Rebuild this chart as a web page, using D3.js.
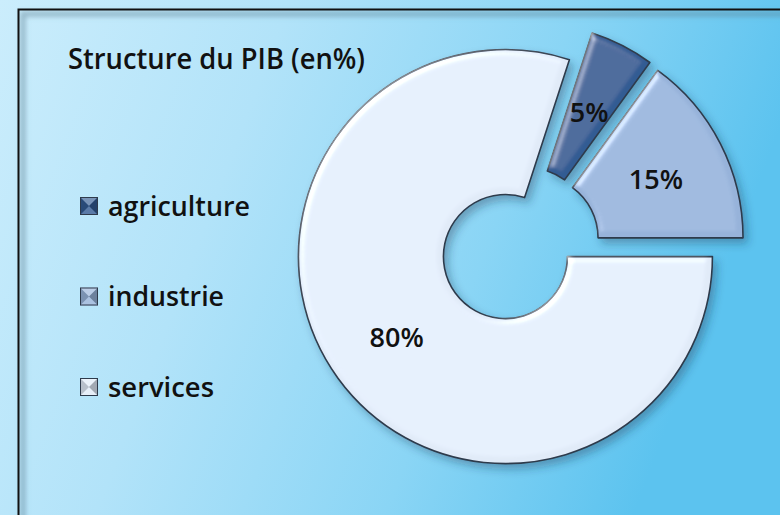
<!DOCTYPE html>
<html>
<head>
<meta charset="utf-8">
<script src="https://cdn.jsdelivr.net/npm/d3@7"></script>
<style>
html, body { margin: 0; padding: 0; overflow: hidden; background: #c4e8fa; }
text { font-family: "Open Sans", sans-serif; font-weight: 600; fill: #111; }
</style>
</head>
<body>
<div id="chart"></div>
<script>
const categories = ['agriculture', 'industrie', 'services']
const values = [5, 15, 80]
const pctLabels = ['5%', '15%', '80%']
const sliceColors = ['#325b93', '#97b3da', '#e1ebf8']
const chartTitle = 'Structure du PIB (en%)'

const width = 780, height = 515
const cx = 520, cy = 246
const rInner = 62, rOuter = 207
const explode = 18

const svg = d3.select('#chart')
.append('svg')
.attr('width', width)
.attr('height', height)

const defs = svg.append('defs')

// background gradient, light on the left, deeper blue to the right
const bg = defs.append('linearGradient')
.attr('id', 'bg')
.attr('x1', 0).attr('y1', 0).attr('x2', 1).attr('y2', 0.25)

bg.selectAll('stop')
.data([[0, '#cbedfc'], [0.35, '#b2e3f9'], [0.7, '#8ad5f5'], [1, '#5cc3ef']])
.enter()
.append('stop')
.attr('offset', d => d[0])
.attr('stop-color', d => d[1])

const shadow = defs.append('filter')
.attr('id', 'shadow')
.attr('x', '-20%').attr('y', '-20%').attr('width', '140%').attr('height', '140%')

shadow.append('feDropShadow')
.attr('dx', 4).attr('dy', 5)
.attr('stdDeviation', 4)
.attr('flood-color', '#12324f')
.attr('flood-opacity', 0.35)

const bevel = defs.append('filter')
.attr('id', 'bevel')
.attr('x', '-10%').attr('y', '-10%').attr('width', '120%').attr('height', '120%')

bevel.append('feGaussianBlur')
.attr('in', 'SourceAlpha')
.attr('stdDeviation', 3.5)
.attr('result', 'blur')

bevel.append('feSpecularLighting')
.attr('in', 'blur')
.attr('surfaceScale', 4)
.attr('specularConstant', 0.8)
.attr('specularExponent', 18)
.attr('lighting-color', '#ffffff')
.attr('result', 'spec')
.append('feDistantLight')
.attr('azimuth', 225)
.attr('elevation', 35)

bevel.append('feComposite')
.attr('in', 'spec').attr('in2', 'SourceAlpha')
.attr('operator', 'in')
.attr('result', 'spec2')

bevel.append('feComposite')
.attr('in', 'SourceGraphic').attr('in2', 'spec2')
.attr('operator', 'arithmetic')
.attr('k1', 0).attr('k2', 1).attr('k3', 0.5).attr('k4', 0)

const blur = defs.append('filter').attr('id', 'soft')
blur.append('feGaussianBlur').attr('stdDeviation', 2.5)

svg.append('rect')
.attr('width', width)
.attr('height', height)
.attr('fill', 'url(#bg)')

// frame of the slide, runs off the right and bottom
const frame = svg.append('g')

frame.append('path')
.attr('d', 'M23,' + (height + 20) + ' V14 H' + (width + 20))
.attr('fill', 'none')
.attr('stroke', '#5c7f92')
.attr('stroke-opacity', 0.5)
.attr('stroke-width', 5)
.attr('filter', 'url(#soft)')

frame.append('path')
.attr('d', 'M18.5,' + (height + 20) + ' V9.5 H' + (width + 20))
.attr('fill', 'none')
.attr('stroke', '#111')
.attr('stroke-width', 2)

const fit = (sel, target) => {
	sel.each(function(){
		d3.select(this)
		.attr('textLength', target)
		.attr('lengthAdjust', 'spacingAndGlyphs')
	})
}

// title
const titleText = svg.append('text')
.attr('x', 68)
.attr('y', 69)
.style('font-size', '28px')
.text(chartTitle)

fit(titleText, 297)

// donut
const pie = d3.pie()
.sort(null)
.value(d => d)
.startAngle(Math.PI / 10)
.endAngle(Math.PI / 10 + 2 * Math.PI)

const arcs = pie(values)

const arc = d3.arc()
.innerRadius(rInner)
.outerRadius(rOuter)

const offset = d => {
	let mid = (d.startAngle + d.endAngle) / 2
	return [explode * Math.sin(mid), -explode * Math.cos(mid)]
}

const donut = svg.append('g')
.attr('transform', 'translate(' + cx + ',' + cy + ')')
.attr('filter', 'url(#shadow)')

donut.selectAll('path')
.data(arcs)
.enter()
.append('path')
.attr('class', (d, i) => 'slice ' + categories[i])
.attr('transform', d => 'translate(' + offset(d) + ')')
.attr('d', arc)
.attr('fill', (d, i) => sliceColors[i])
.attr('stroke', '#2e3b4c')
.attr('stroke-width', 1.6)
.attr('stroke-linejoin', 'round')
.attr('filter', 'url(#bevel)')

svg.append('g')
.attr('transform', 'translate(' + cx + ',' + cy + ')')
.selectAll('text')
.data(arcs)
.enter()
.append('text')
.attr('x', d => arc.centroid(d)[0] + offset(d)[0])
.attr('y', d => arc.centroid(d)[1] + offset(d)[1] + 2)
.attr('dy', '0.36em')
.attr('text-anchor', 'middle')
.style('font-size', '27px')
.text((d, i) => pctLabels[i])

// legend
const legendY = d3.scalePoint()
.domain(categories)
.range([206, 387])

const sq = 18

const legend = svg.append('g')
.selectAll('g')
.data(categories)
.enter()
.append('g')
.attr('transform', d => 'translate(80,' + (legendY(d) - sq / 2) + ')')

legend.append('rect')
.attr('width', sq)
.attr('height', sq)
.attr('fill', (d, i) => sliceColors[i])

const tri = [
	[[0, 0], [sq, 0], [sq / 2, sq / 2], '#fff', 0.35],
	[[0, sq], [sq, sq], [sq / 2, sq / 2], '#fff', 0.2],
	[[0, 0], [0, sq], [sq / 2, sq / 2], '#000', 0.18],
	[[sq, 0], [sq, sq], [sq / 2, sq / 2], '#000', 0.28]
]

tri.map(t => {
	legend.append('path')
	.attr('d', 'M' + t[0] + 'L' + t[1] + 'L' + t[2] + 'Z')
	.attr('fill', t[3])
	.attr('fill-opacity', t[4])
})

legend.append('rect')
.attr('x', 0.5).attr('y', 0.5)
.attr('width', sq - 1)
.attr('height', sq - 1)
.attr('fill', 'none')
.attr('stroke', '#2e3b4c')
.attr('stroke-width', 1)

const legendText = legend.append('text')
.attr('x', 28)
.attr('y', sq / 2)
.attr('dy', '0.36em')
.style('font-size', '27px')
.text(d => d)

const legendWidths = { agriculture: 142, industrie: 116, services: 106 }

legendText.each(function(d){
	fit(d3.select(this), legendWidths[d])
})
</script>
</body>
</html>
